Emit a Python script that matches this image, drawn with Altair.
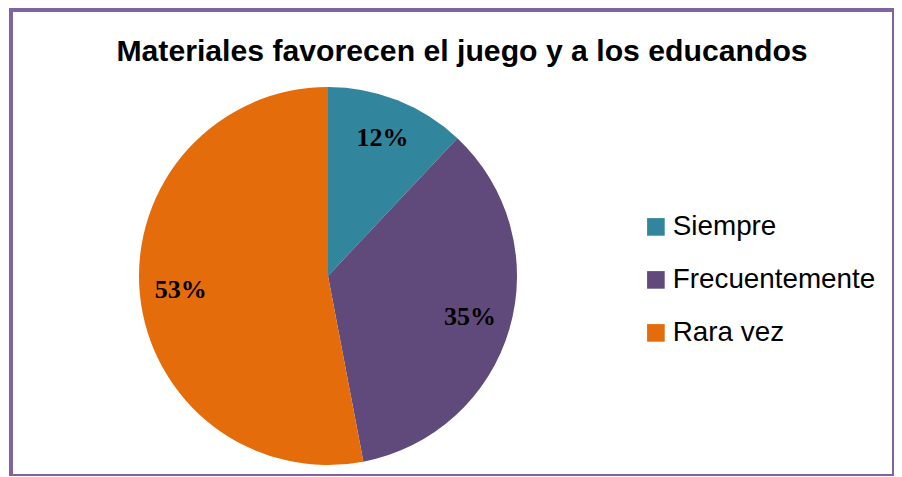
import altair as alt
import pandas as pd

categories = ["Siempre", "Frecuentemente", "Rara vez"]
values = [12, 35, 53]
labels = ["12%", "35%", "53%"]
colors = ["#31859c", "#604a7b", "#e46c0a"]
title_text = "Materiales favorecen el juego y a los educandos"

df = pd.DataFrame({"cat": categories, "val": values, "lab": labels, "ord": list(range(len(categories)))})
tdf = pd.DataFrame({"t": [title_text]})

CX, CY = 317, 266

base = alt.Chart(df).encode(
    theta=alt.Theta("val:Q", stack=True),
    order=alt.Order("ord:Q"),
)

pie = base.mark_arc(outerRadius=189).encode(
    color=alt.Color(
        "cat:N",
        sort=categories,
        scale=alt.Scale(domain=categories, range=colors),
        legend=alt.Legend(
            title=None, orient="none", legendX=631, legendY=203,
            symbolType="square", symbolSize=310, symbolStrokeWidth=0,
            labelFontSize=27.8, labelFont="Liberation Sans", labelColor="black",
            rowPadding=24, labelOffset=3, labelLimit=400,
        ),
    ),
    x=alt.value(CX), y=alt.value(CY),
)

text = base.mark_text(
    radius=148, font="Liberation Serif", fontWeight="bold", fontSize=26, color="black",
    align="center", baseline="middle",
).encode(text="lab:N", x=alt.value(CX), y=alt.value(CY))

title = alt.Chart(tdf).mark_text(
    font="Liberation Sans", fontWeight="bold", fontSize=30.2, color="black",
    align="center", baseline="alphabetic",
).encode(text="t:N", x=alt.value(451), y=alt.value(51))

chart = alt.layer(pie, text, title).properties(
    width=883, height=466,
    padding={"left": 3, "top": 2, "right": 0, "bottom": 0},
    autosize="none",
).configure_view(stroke="#8064a2", strokeWidth=4)

chart.save("out.html", embed_options={"renderer": "svg", "actions": False})
